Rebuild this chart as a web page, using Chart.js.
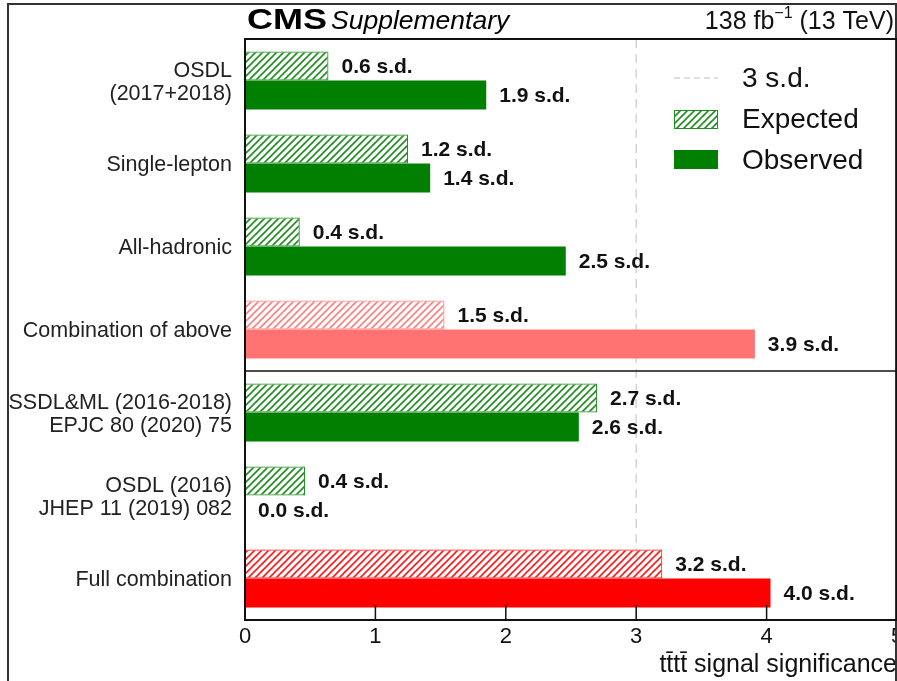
<!DOCTYPE html>
<html>
<head>
<meta charset="utf-8">
<script src="https://cdn.jsdelivr.net/npm/chart.js@4/dist/chart.umd.min.js"></script>
<style>
  html, body { margin: 0; padding: 0; background: #fff; }
  canvas { display: block; }
</style>
</head>
<body>
<canvas id="c" width="897" height="681"></canvas>
<script>
// categories (top to bottom)
const categories = [
  ['OSDL', '(2017+2018)'],
  'Single-lepton',
  'All-hadronic',
  'Combination of above',
  ['SSDL&ML (2016-2018)', 'EPJC 80 (2020) 75'],
  ['OSDL (2016)', 'JHEP 11 (2019) 082'],
  'Full combination'
];
// bar lengths
const expected = [0.64, 1.25, 0.42, 1.53, 2.70, 0.46, 3.20];
const observed = [1.85, 1.42, 2.46, 3.91, 2.56, 0.0, 4.03];
// printed values
const expectedText = ['0.6 s.d.', '1.2 s.d.', '0.4 s.d.', '1.5 s.d.', '2.7 s.d.', '0.4 s.d.', '3.2 s.d.'];
const observedText = ['1.9 s.d.', '1.4 s.d.', '2.5 s.d.', '3.9 s.d.', '2.6 s.d.', '0.0 s.d.', '4.0 s.d.'];
// colour per category: green, pink for first combination, red for full
const barColors = ['#007f00', '#007f00', '#007f00', '#ff7373', '#007f00', '#007f00', '#ff0000'];
const hatchColors = ['#1f8f1f', '#1f8f1f', '#1f8f1f', '#ff8080', '#1f8f1f', '#1f8f1f', '#ff1a1a'];
const xTicks = [0, 1, 2, 3, 4, 5];
const threshold = 3;

const canvas = document.getElementById('c');
const ctx = canvas.getContext('2d');
const FONT = '"Liberation Sans", Arial, Helvetica, sans-serif';

function hatch(color) {
  const s = 7;
  const t = document.createElement('canvas');
  t.width = s; t.height = s;
  const g = t.getContext('2d');
  g.strokeStyle = color;
  g.lineWidth = 1.6;
  g.beginPath();
  g.moveTo(0, s); g.lineTo(s, 0);
  g.moveTo(-s, s); g.lineTo(s, -s);
  g.moveTo(0, 2 * s); g.lineTo(2 * s, 0);
  g.stroke();
  return ctx.createPattern(t, 'repeat');
}

const greenHatch = hatch('#1f8f1f');
const hatchFill = hatchColors.map(c => hatch(c));

// ——— plugins ———
const backdrop = {
  id: 'backdrop',
  beforeDatasetsDraw(chart) {
    const { ctx, chartArea: a, scales: { x } } = chart;
    const px = x.getPixelForValue(threshold);
    ctx.save();
    ctx.strokeStyle = '#d4d4d4';
    ctx.lineWidth = 1.5;
    ctx.setLineDash([9, 6]);
    ctx.beginPath();
    ctx.moveTo(px, a.top);
    ctx.lineTo(px, a.bottom);
    ctx.stroke();
    ctx.restore();
  }
};

const decorations = {
  id: 'decorations',
  afterDatasetsDraw(chart) {
    const { ctx, chartArea: a, scales: { x, y } } = chart;
    ctx.save();
    // bar value labels
    ctx.font = 'bold 21px ' + FONT;
    ctx.fillStyle = '#111';
    ctx.textBaseline = 'middle';
    ctx.textAlign = 'left';
    [expectedText, observedText].forEach((txt, di) => {
      chart.getDatasetMeta(di).data.forEach((bar, i) => {
        ctx.fillText(txt[i], bar.x + 13, bar.y + 1);
      });
    });

    // outer frame
    ctx.strokeStyle = '#333';
    ctx.lineWidth = 2;
    ctx.beginPath();
    ctx.moveTo(8, 681); ctx.lineTo(8, 4); ctx.lineTo(896, 4); ctx.lineTo(896, 681);
    ctx.stroke();

    // plot frame
    ctx.strokeStyle = '#111';
    ctx.lineWidth = 2;
    ctx.strokeRect(a.left, a.top, a.right - a.left, a.bottom - a.top);

    // separator between the two groups
    const sy = (y.getPixelForValue(3) + y.getPixelForValue(4)) / 2;
    ctx.lineWidth = 1.5;
    ctx.beginPath();
    ctx.moveTo(a.left, sy); ctx.lineTo(a.right, sy);
    ctx.stroke();

    // inner ticks on the x axis
    ctx.lineWidth = 1.5;
    ctx.beginPath();
    xTicks.forEach(v => {
      const px = x.getPixelForValue(v);
      ctx.moveTo(px, a.bottom);
      ctx.lineTo(px, a.bottom - 15);
    });
    ctx.stroke();

    // header
    ctx.fillStyle = '#000';
    ctx.textBaseline = 'alphabetic';
    ctx.font = 'bold 30px ' + FONT;
    ctx.save();
    ctx.translate(247, 29);
    ctx.scale(1.2, 1);
    ctx.fillText('CMS', 0, 0);
    ctx.restore();
    ctx.font = 'italic 26.5px ' + FONT;
    ctx.fillText('Supplementary', 331, 29);

    ctx.fillStyle = '#111';
    const right = 894;
    ctx.font = '25px ' + FONT;
    const tail = ' (13 TeV)';
    const wTail = ctx.measureText(tail).width;
    ctx.font = '16px ' + FONT;
    const sup = '\u22121';
    const wSup = ctx.measureText(sup).width;
    ctx.font = '25px ' + FONT;
    const head = '138 fb';
    const wHead = ctx.measureText(head).width;
    let hx = right - wTail - wSup - wHead;
    ctx.fillText(head, hx, 29);
    ctx.font = '16px ' + FONT;
    ctx.fillText(sup, hx + wHead, 18);
    ctx.font = '25px ' + FONT;
    ctx.fillText(tail, hx + wHead + wSup, 29);

    // legend
    ctx.font = '28px ' + FONT;
    ctx.textBaseline = 'middle';
    ctx.strokeStyle = '#d4d4d4';
    ctx.lineWidth = 1.5;
    ctx.setLineDash([6, 4]);
    ctx.beginPath();
    ctx.moveTo(674, 78); ctx.lineTo(718, 78);
    ctx.stroke();
    ctx.setLineDash([]);
    ctx.fillStyle = '#111';
    ctx.fillText('3 s.d.', 742, 79);

    ctx.fillStyle = '#fff';
    ctx.fillRect(674, 110, 44, 19);
    ctx.fillStyle = greenHatch;
    ctx.fillRect(674, 110, 44, 19);
    ctx.strokeStyle = '#1f8f1f';
    ctx.lineWidth = 1;
    ctx.strokeRect(674.5, 110.5, 43, 18);
    ctx.fillStyle = '#111';
    ctx.fillText('Expected', 742, 120);

    ctx.fillStyle = '#007f00';
    ctx.fillRect(674, 150, 44, 19);
    ctx.fillStyle = '#111';
    ctx.fillText('Observed', 742, 161);
    ctx.restore();
  }
};

new Chart(ctx, {
  type: 'bar',
  data: {
    labels: categories,
    datasets: [
      {
        label: 'Expected',
        data: expected,
        backgroundColor: hatchFill,
        borderColor: hatchColors,
        borderWidth: 1,
        borderSkipped: false
      },
      {
        label: 'Observed',
        data: observed,
        backgroundColor: barColors,
        borderColor: barColors,
        borderWidth: 0
      }
    ]
  },
  options: {
    indexAxis: 'y',
    responsive: false,
    animation: false,
    devicePixelRatio: 1,
    layout: { padding: { top: 39, right: -2, left: 0, bottom: 0 } },
    datasets: { bar: { barPercentage: 1, categoryPercentage: 0.7 } },
    plugins: {
      legend: { display: false },
      tooltip: { enabled: false }
    },
    scales: {
      x: {
        min: 0,
        max: 5,
        afterBuildTicks: s => { s.ticks = xTicks.map(v => ({ value: v })); },
        grid: { display: false, drawTicks: false },
        border: { display: false },
        ticks: {
          color: '#111',
          font: { family: FONT, size: 22 },
          padding: 4,
          maxRotation: 0,
          autoSkip: false
        },
        title: {
          display: true,
          text: 't\u0074\u0304t\u0074\u0304 signal significance',
          align: 'end',
          color: '#111',
          font: { family: FONT, size: 25 },
          padding: { top: 0, bottom: 1 }
        },
        afterFit: s => { s.height = 61; s.paddingLeft = 0; s.paddingRight = 0; }
      },
      y: {
        grid: { display: false, drawTicks: false },
        border: { display: false },
        ticks: {
          color: '#222',
          font: { family: FONT, size: 21.5, lineHeight: 1.07 },
          padding: 13,
          labelOffset: 2,
          autoSkip: false
        },
        afterFit: s => { s.width = 245; }
      }
    }
  },
  plugins: [backdrop, decorations]
});
</script>
</body>
</html>
